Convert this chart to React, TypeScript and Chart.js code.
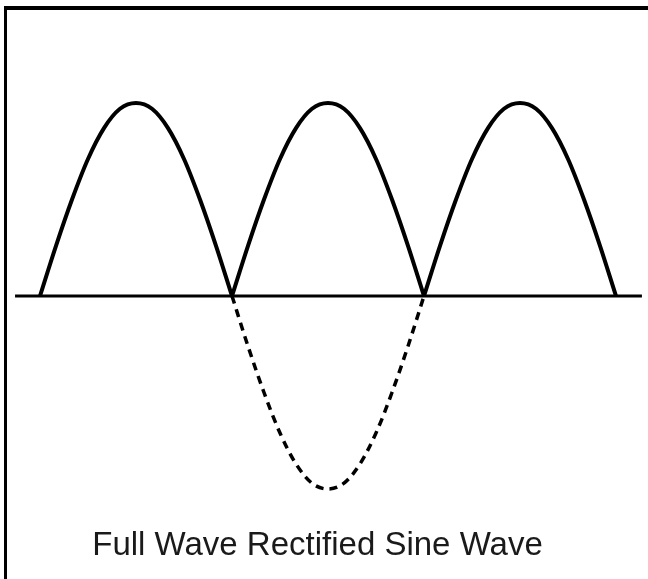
import React, { useEffect, useRef } from "react";
import { Chart, registerables } from "chart.js";

Chart.register(...registerables);

// Phase positions within one half-period (hump) and the wave level at each
const phase = [0, 0.0833, 0.1667, 0.25, 0.3333, 0.4167, 0.5, 0.5833, 0.6667, 0.75, 0.8333, 0.9167, 1];
const humpLevel = [0, 0.26, 0.5, 0.71, 0.87, 0.97, 1, 0.97, 0.87, 0.71, 0.5, 0.26, 0];
// Starting positions (in half-periods) of the rectified humps
const humpStarts = [0, 1, 2];
// The original negative half-cycle shown dashed
const dipStart = 1;
const dipLevel = [0, -0.26, -0.5, -0.71, -0.87, -0.97, -1, -0.97, -0.87, -0.71, -0.5, -0.26, 0];
// Zero axis extent (in half-periods)
const axisX = [-0.13, 3.135];
const axisY = [0, 0];

const titleText = "Full Wave Rectified Sine Wave";

const framePlugin = {
  id: "frame",
  afterDraw(chart: any) {
    const ctx = chart.ctx;
    ctx.save();
    ctx.fillStyle = "#000";
    ctx.fillRect(4, 6, chart.width - 4, 4);
    ctx.fillRect(4, 6, 3, chart.height - 6);
    ctx.restore();
  },
};

export default function App() {
  const ref = useRef<HTMLCanvasElement>(null);
  useEffect(() => {
    if (!ref.current) return;
    const humpDatasets = humpStarts.map((s) => ({
      data: phase.map((p, i) => ({ x: s + p, y: humpLevel[i] })),
      borderColor: "#000",
      borderWidth: 4,
      pointRadius: 0,
      cubicInterpolationMode: "monotone" as const,
      fill: false,
      clip: false as const,
    }));
    const chart = new Chart(ref.current, {
      type: "line",
      data: {
        datasets: [
          {
            data: axisX.map((x, i) => ({ x, y: axisY[i] })),
            borderColor: "#000",
            borderWidth: 3,
            pointRadius: 0,
            fill: false,
            clip: false as const,
          },
          ...humpDatasets,
          {
            data: phase.map((p, i) => ({ x: dipStart + p, y: dipLevel[i] })),
            borderColor: "#000",
            borderWidth: 3.5,
            borderDash: [8, 6],
            pointRadius: 0,
            cubicInterpolationMode: "monotone" as const,
            fill: false,
            clip: false as const,
          },
        ],
      },
      options: {
        animation: false,
        responsive: true,
        maintainAspectRatio: false,
        layout: { padding: { left: 0, top: 0, bottom: 0, right: 13 } },
        scales: {
          x: { type: "linear", display: false, min: -40 / 192, max: 595 / 192 },
          y: { type: "linear", display: false, min: -230.4 / 193, max: 296 / 193 },
        },
        plugins: {
          legend: { display: false },
          tooltip: { enabled: false },
          title: {
            display: true,
            position: "bottom",
            text: titleText,
            color: "#1a1a1a",
            font: { family: "'Liberation Sans', Arial, sans-serif", size: 33, weight: "normal" },
            padding: { top: 0, bottom: 13 },
          },
        },
      },
      plugins: [framePlugin],
    });
    return () => chart.destroy();
  }, []);
  return (
    <div style={{ position: "absolute", left: 0, top: 0, width: 648, height: 579, background: "#fff" }}>
      <canvas ref={ref} />
    </div>
  );
}
